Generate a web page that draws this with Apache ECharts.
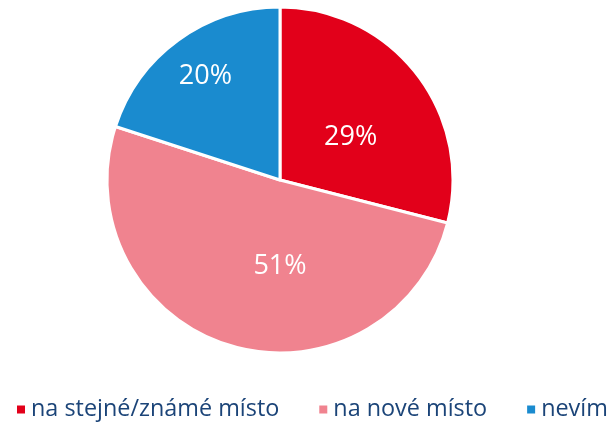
<!DOCTYPE html>
<html>
<head>
<meta charset="utf-8">
<script src="https://cdn.jsdelivr.net/npm/echarts@6/dist/echarts.min.js"></script>
<style>
  html, body { margin: 0; padding: 0; background: #fff; }
  #chart { width: 615px; height: 422px; }
</style>
</head>
<body>
<div id="chart"></div>
<script>
const categories = ['na stejné/známé místo', 'na nové místo', 'nevím'];
const values = [29, 51, 20];
const colors = ['#E2001A', '#F0838F', '#1A8BCF'];
// nudge labels toward where the original put them
const labelOffsets = [[0, 12], [25, 0], [-22, -31]];

const myChart = echarts.init(document.getElementById('chart'));

const option = {
    animation: false,
    color: colors,
    legend: {
        top: 393,
        left: 10,
        width: 700,
        itemWidth: 10,
        itemHeight: 10,
        itemGap: 38,
        icon: 'rect',
        textStyle: {
            fontFamily: 'Open Sans',
            fontSize: 23.4,
            color: '#1B4478'
        },
        data: categories
    },
    series: [{
        type: 'pie',
        center: [280, 180],
        radius: 173,
        startAngle: 90,
        clockwise: true,
        itemStyle: { borderColor: '#fff', borderWidth: 3 },
        label: {
            position: 'inside',
            formatter: '{c}%',
            color: '#fff',
            fontFamily: 'Open Sans',
            fontSize: 27
        },
        labelLine: { show: false },
        data: categories.map((name, i) => ({
            name: name,
            value: values[i],
            label: { offset: labelOffsets[i] }
        }))
    }]
};

myChart.setOption(option);
</script>
</body>
</html>
